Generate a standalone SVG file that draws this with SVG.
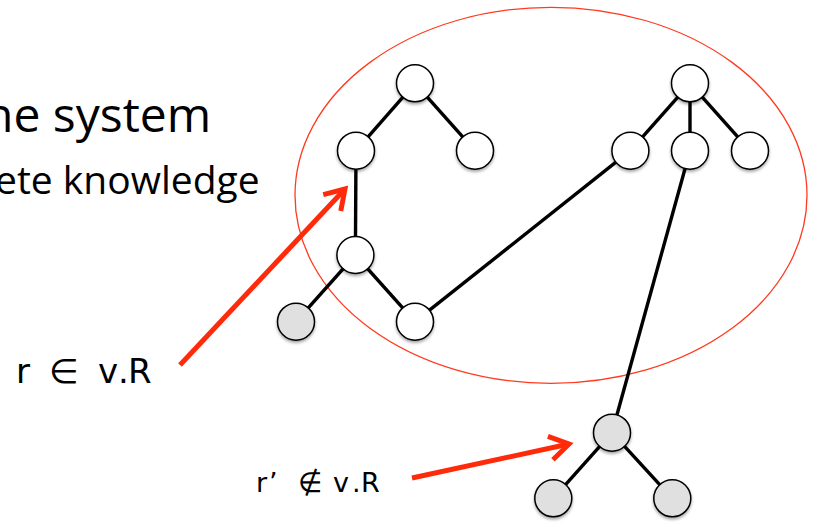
<svg xmlns="http://www.w3.org/2000/svg" width="815" height="523" viewBox="0 0 815 523">
<style>
.edge{stroke:#000;stroke-width:3.4;fill:none}
.node{stroke:#000;stroke-width:1.5;fill:#fff;filter:url(#sh)}
.gray{fill:#e0e0e0}
.ptr{stroke:#ff2a0a;stroke-width:5;fill:none;marker-end:url(#chev)}
.txt{font-family:"Open Sans","DejaVu Sans",sans-serif;fill:#000}
.lbl{font-family:"DejaVu Sans","Open Sans",sans-serif;fill:#000}
</style>
<defs>
<filter id="sh" x="-30%" y="-30%" width="160%" height="170%">
<feDropShadow dx="0" dy="2" stdDeviation="1.5" flood-color="#000" flood-opacity="0.35"/>
</filter>
<marker id="chev" markerUnits="userSpaceOnUse" orient="auto" refX="0" refY="0" markerWidth="40" markerHeight="40" overflow="visible">
<path d="M-19,-12 L0,0 L-19,12" fill="none" stroke="#ff2a0a" stroke-width="5" stroke-linejoin="miter"/>
</marker>
</defs>
<rect width="815" height="523" fill="#fff"/>
<text class="txt" x="-16" y="132" font-size="48">ne system</text>
<text class="txt" x="-5" y="194" font-size="39">ete knowledge</text>
<ellipse id="view" cx="551" cy="195.3" rx="256" ry="188" fill="none" stroke="#ff3a1e" stroke-width="1.3"/>
<g id="connectors">
<line class="edge" x1="415" y1="83.3" x2="356" y2="150.7"/>
<line class="edge" x1="415" y1="83.3" x2="475" y2="150.7"/>
<line class="edge" x1="356" y1="150.7" x2="355.4" y2="255"/>
<line class="edge" x1="355.4" y1="255" x2="296" y2="321.7"/>
<line class="edge" x1="355.4" y1="255" x2="415" y2="321.7"/>
<line class="edge" x1="415" y1="321.7" x2="630.4" y2="150.7"/>
<line class="edge" x1="690" y1="83.3" x2="630.4" y2="150.7"/>
<line class="edge" x1="690" y1="83.3" x2="690" y2="150.7"/>
<line class="edge" x1="690" y1="83.3" x2="750" y2="150.7"/>
<line class="edge" x1="690" y1="150.7" x2="612" y2="432.7"/>
<line class="edge" x1="612" y1="432.7" x2="553.3" y2="498.3"/>
<line class="edge" x1="612" y1="432.7" x2="672.3" y2="498.3"/>
</g>
<g id="nodes">
<g id="n1"><circle class="node" cx="415" cy="83.3" r="18.5"/></g>
<g id="n2"><circle class="node" cx="356" cy="150.7" r="18.5"/></g>
<g id="n3"><circle class="node" cx="475" cy="150.7" r="18.5"/></g>
<g id="n4"><circle class="node" cx="355.4" cy="255" r="18.5"/></g>
<g id="n5"><circle class="node gray" cx="296" cy="321.7" r="18.5"/></g>
<g id="n6"><circle class="node" cx="415" cy="321.7" r="18.5"/></g>
<g id="n7"><circle class="node" cx="690" cy="83.3" r="18.5"/></g>
<g id="n8"><circle class="node" cx="630.4" cy="150.7" r="18.5"/></g>
<g id="n9"><circle class="node" cx="690" cy="150.7" r="18.5"/></g>
<g id="n10"><circle class="node" cx="750" cy="150.7" r="18.5"/></g>
<g id="n11"><circle class="node gray" cx="612" cy="432.7" r="18.5"/></g>
<g id="n12"><circle class="node gray" cx="553.3" cy="498.3" r="18.5"/></g>
<g id="n13"><circle class="node gray" cx="672.3" cy="498.3" r="18.5"/></g>
</g>
<g id="pointers">
<line class="ptr" x1="180" y1="365" x2="345" y2="189"/>
<line class="ptr" x1="412" y1="478" x2="569" y2="444"/>
</g>
<text class="lbl" font-size="34" x="16 32 49 85 98 118 128" y="383">r ∈ v.R</text>
<text class="lbl" font-size="27" x="256 269 285 298 322 333 352 361" y="492">r’ <tspan font-size="28" font-weight="200">∉</tspan> v.R</text>
</svg>
